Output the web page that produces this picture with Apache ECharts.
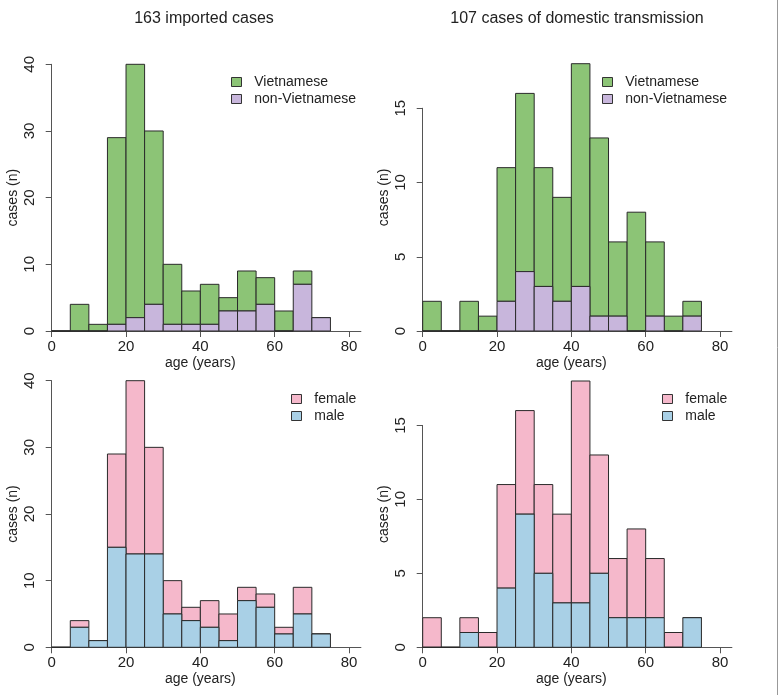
<!DOCTYPE html>
<html>
<head>
<meta charset="utf-8">
<script src="https://cdn.jsdelivr.net/npm/echarts@6/dist/echarts.min.js"></script>
<style>
  html, body { margin: 0; padding: 0; background: #fff; }
  #chart { width: 780px; height: 695px; }
</style>
</head>
<body>
<div id="chart"></div>
<script>
// age bins, 5 years wide, lower edges
const binStarts = [0, 5, 10, 15, 20, 25, 30, 35, 40, 45, 50, 55, 60, 65, 70];
const binWidth = 5;
const ageTicks = [0, 20, 40, 60, 80];

// imported cases (163)
const importedViet    = [0, 4, 1, 28, 38, 26, 9, 5, 6, 2, 6, 4, 3, 2, 0];
const importedNonViet = [0, 0, 0, 1, 2, 4, 1, 1, 1, 3, 3, 4, 0, 7, 2];
const importedFemale  = [0, 1, 0, 14, 26, 16, 5, 2, 4, 4, 2, 2, 1, 4, 0];
const importedMale    = [0, 3, 1, 15, 14, 14, 5, 4, 3, 1, 7, 6, 2, 5, 2];

// domestic transmission (107)
const domesticViet    = [2, 0, 2, 1, 9, 12, 8, 7, 15, 12, 5, 8, 5, 1, 1];
const domesticNonViet = [0, 0, 0, 0, 2, 4, 3, 2, 3, 1, 1, 0, 1, 0, 1];
const domesticFemale  = [2, 0, 1, 1, 7, 7, 6, 6, 15, 8, 4, 6, 4, 1, 0];
const domesticMale    = [0, 0, 1, 0, 4, 9, 5, 3, 3, 5, 2, 2, 2, 0, 2];

const importedTicks = [0, 10, 20, 30, 40];
const domesticTicks = [0, 5, 10, 15];

const green = '#8cc476';
const purple = '#c8b6dc';
const pink = '#f5b8cb';
const blue = '#a9d0e6';
const font = '"Liberation Sans", Arial, Helvetica, sans-serif';

const panels = [
  { box: [51.7, 64.3, 309.2, 266.7], yMax: 40, ticks: importedTicks, upper: importedViet, lower: importedNonViet,
    names: ['Vietnamese', 'non-Vietnamese'], colors: [green, purple], legend: [231, 75] },
  { box: [422.7, 63.7, 309.2, 267.3], yMax: 18, ticks: domesticTicks, upper: domesticViet, lower: domesticNonViet,
    names: ['Vietnamese', 'non-Vietnamese'], colors: [green, purple], legend: [602, 75] },
  { box: [51.7, 380.7, 309.2, 266.6], yMax: 40, ticks: importedTicks, upper: importedFemale, lower: importedMale,
    names: ['female', 'male'], colors: [pink, blue], legend: [291, 392] },
  { box: [422.7, 381, 309.2, 266.3], yMax: 18, ticks: domesticTicks, upper: domesticFemale, lower: domesticMale,
    names: ['female', 'male'], colors: [pink, blue], legend: [662, 392] }
];

function renderBin(params, api) {
  const lo = api.value(0), hi = api.value(1), b = api.value(2), t = api.value(3);
  const p0 = api.coord([lo, t]);
  const p1 = api.coord([hi, b]);
  return {
    type: 'rect',
    shape: { x: p0[0], y: p0[1], width: p1[0] - p0[0], height: p1[1] - p0[1] },
    style: { fill: api.visual('color'), stroke: '#2a2a2a', lineWidth: 1 }
  };
}

const grid = [], xAxis = [], yAxis = [], series = [], legend = [];

panels.forEach((p, i) => {
  const [left, top, width, height] = p.box;
  const lastTick = p.ticks[p.ticks.length - 1];
  // main plotting grid
  grid.push({ left, top, width, height });
  // axis-only grid, so the y axis line stops at the last tick
  const axisH = height * lastTick / p.yMax;
  grid.push({ left, top: top + height - axisH, width, height: axisH });

  xAxis.push({
    gridIndex: 2 * i, type: 'value', min: 0, max: 83.2,
    axisLine: { show: true, lineStyle: { color: '#555', width: 1 } },
    axisTick: { show: true, length: 6, customValues: ageTicks, lineStyle: { color: '#555' } },
    axisLabel: { customValues: ageTicks, color: '#222', fontSize: 15, fontFamily: font, margin: 8 },
    splitLine: { show: false },
    name: 'age (years)', nameLocation: 'middle', nameGap: 25,
    nameTextStyle: { color: '#222', fontSize: 14, fontFamily: font, padding: [0, 12, 0, 0] }
  });
  xAxis.push({ gridIndex: 2 * i + 1, type: 'value', min: 0, max: 83.2, show: false });

  // main y axis carries only the name, centred on the full plot height
  yAxis.push({
    gridIndex: 2 * i, type: 'value', min: 0, max: p.yMax, offset: 12,
    axisLine: { show: false }, axisTick: { show: false }, axisLabel: { show: false },
    splitLine: { show: false },
    name: 'cases (n)', nameLocation: 'middle', nameRotate: 90, nameGap: 20,
    nameTextStyle: { color: '#222', fontSize: 14, fontFamily: font }
  });
  yAxis.push({
    gridIndex: 2 * i + 1, type: 'value', min: 0, max: lastTick, interval: p.ticks[1] - p.ticks[0],
    offset: 12,
    axisLine: { show: true, lineStyle: { color: '#555', width: 1 } },
    axisTick: { show: true, length: 6, lineStyle: { color: '#555' } },
    axisLabel: { rotate: 90, color: '#222', fontSize: 15, fontFamily: font, margin: 2 },
    splitLine: { show: false }
  });

  const upperData = binStarts.map((s, k) => [s, s + binWidth, p.lower[k], p.lower[k] + p.upper[k]]);
  const lowerData = binStarts.map((s, k) => [s, s + binWidth, 0, p.lower[k]]);

  series.push({
    type: 'custom', name: p.names[0], xAxisIndex: 2 * i, yAxisIndex: 2 * i,
    itemStyle: { color: p.colors[0] }, renderItem: renderBin,
    encode: { x: [0, 1], y: [2, 3] }, data: upperData, silent: true
  });
  series.push({
    type: 'custom', name: p.names[1], xAxisIndex: 2 * i, yAxisIndex: 2 * i,
    itemStyle: { color: p.colors[1] }, renderItem: renderBin,
    encode: { x: [0, 1], y: [2, 3] }, data: lowerData, silent: true
  });

  legend.push({
    orient: 'vertical', left: p.legend[0], top: p.legend[1], padding: 0,
    data: p.names, seriesIndex: [2 * i, 2 * i + 1],
    icon: 'rect', itemWidth: 10, itemHeight: 9, itemGap: 3,
    itemStyle: { borderColor: '#333', borderWidth: 1 },
    formatter: (name) => '  ' + name,
    selectedMode: false,
    textStyle: { color: '#222', fontSize: 14, fontFamily: font }
  });
});

const chart = echarts.init(document.getElementById('chart'));
chart.setOption({
  animation: false,
  backgroundColor: '#fff',
  title: [
    { text: '163 imported cases', left: 199, top: 6, textAlign: 'center',
      textStyle: { fontSize: 16, fontWeight: 'normal', color: '#222', fontFamily: font } },
    { text: '107 cases of domestic transmission', left: 572, top: 6, textAlign: 'center',
      textStyle: { fontSize: 16, fontWeight: 'normal', color: '#222', fontFamily: font } }
  ],
  grid, xAxis, yAxis, series, legend,
  graphic: [
    { type: 'line', shape: { x1: 777.5, y1: 0, x2: 777.5, y2: 695 }, style: { stroke: '#999', lineWidth: 1 } }
  ]
});
</script>
</body>
</html>
